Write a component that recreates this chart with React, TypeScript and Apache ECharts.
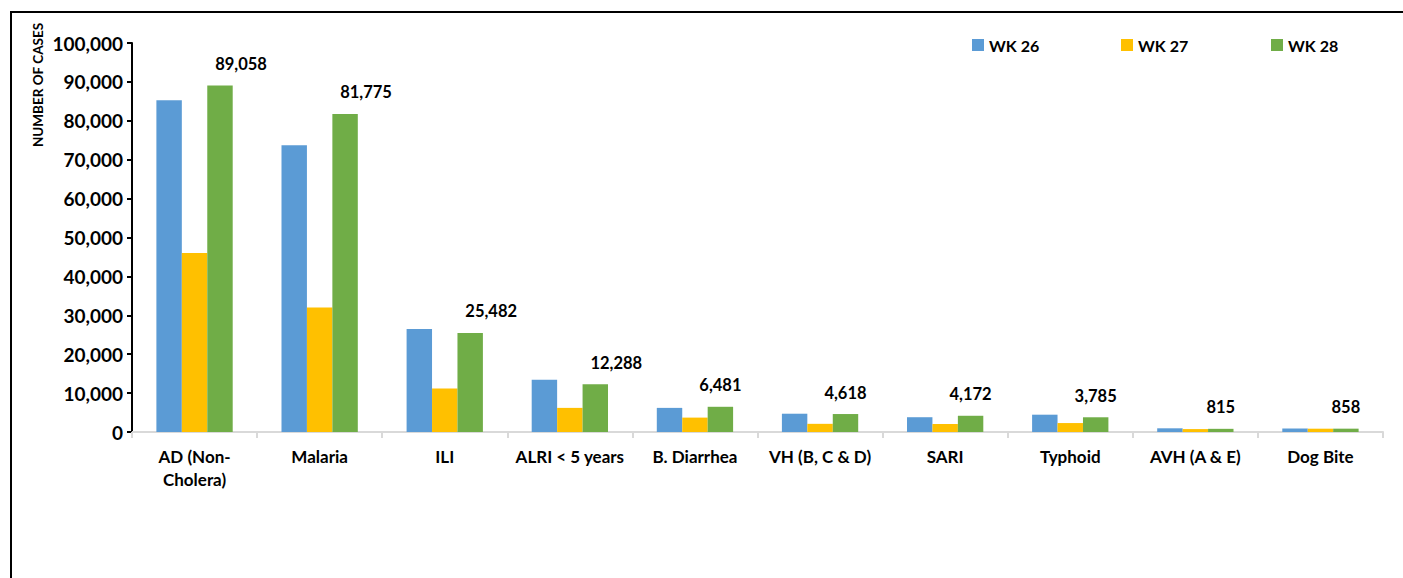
import React, { useEffect, useRef } from "react";
import * as echarts from "echarts";

const categories = [
  "AD (Non-\nCholera)",
  "Malaria",
  "ILI",
  "ALRI < 5 years",
  "B. Diarrhea",
  "VH (B, C & D)",
  "SARI",
  "Typhoid",
  "AVH (A & E)",
  "Dog Bite",
];
const seriesNames = ["WK 26", "WK 27", "WK 28"];
const wk26 = [85300, 73700, 26500, 13400, 6200, 4700, 3800, 4450, 950, 900];
const wk27 = [46000, 32000, 11200, 6200, 3700, 2100, 2050, 2300, 750, 850];
const wk28 = [89058, 81775, 25482, 12288, 6481, 4618, 4172, 3785, 815, 858];
const colors = ["#5B9BD5", "#FFC000", "#70AD47"];
const yTicks = { min: 0, max: 100000, interval: 10000 };

const FONT = "Lato";
const fmt = (v: number) => v.toLocaleString("en-US");

export default function App() {
  const ref = useRef<HTMLDivElement>(null);
  useEffect(() => {
    if (!ref.current) return;
    const chart = echarts.init(ref.current, undefined, { renderer: "svg" });
    const legendLefts = [972, 1121, 1271];
    chart.setOption({
      animation: false,
      backgroundColor: "#ffffff",
      textStyle: { fontFamily: FONT },
      grid: { left: 132, right: 20, top: 43, bottom: 146, containLabel: false },
      legend: seriesNames.map((n, i) => ({
        data: [n],
        left: legendLefts[i],
        top: 37,
        padding: 0,
        itemWidth: 12,
        itemHeight: 12,
        icon: "rect",
        textStyle: { fontFamily: FONT, fontWeight: "bold", fontSize: 16, color: "#000" },
      })),
      xAxis: {
        type: "category",
        data: categories,
        axisLine: { lineStyle: { color: "#d9d9d9", width: 2 } },
        axisTick: { show: true, length: 6, lineStyle: { color: "#d9d9d9", width: 2 } },
        axisLabel: {
          interval: 0,
          margin: 13,
          fontFamily: FONT,
          fontWeight: "bold",
          fontSize: 17,
          lineHeight: 23,
          color: "#000",
        },
      },
      yAxis: {
        type: "value",
        min: yTicks.min,
        max: yTicks.max,
        interval: yTicks.interval,
        splitLine: { show: false },
        axisLine: { show: true, lineStyle: { color: "#000", width: 2 } },
        axisTick: { show: true, length: 5, lineStyle: { color: "#000", width: 2 } },
        axisLabel: {
          margin: 9,
          fontFamily: FONT,
          fontWeight: "bold",
          fontSize: 19,
          color: "#000",
          formatter: (v: number) => fmt(v),
        },
      },
      series: [
        { name: seriesNames[0], type: "bar", data: wk26, itemStyle: { color: colors[0] }, barGap: "0%", barCategoryGap: "39%" },
        { name: seriesNames[1], type: "bar", data: wk27, itemStyle: { color: colors[1] }, barGap: "0%", barCategoryGap: "39%" },
        {
          name: seriesNames[2],
          type: "bar",
          itemStyle: { color: colors[2] },
          barGap: "0%",
          barCategoryGap: "39%",
          data: wk28.map((v) => ({
            value: v,
            label: { offset: [v >= 10000 ? 21 : 0, 0] },
          })),
          label: {
            show: true,
            position: "top",
            distance: 13,
            fontFamily: FONT,
            fontWeight: "bold",
            fontSize: 16.5,
            color: "#000",
            formatter: (p: any) => fmt(p.value),
          },
        },
      ],
      graphic: [
        {
          type: "line",
          shape: { x1: 10, y1: 12, x2: 1403, y2: 12 },
          style: { stroke: "#000", lineWidth: 2 },
          silent: true,
        },
        {
          type: "line",
          shape: { x1: 11, y1: 11, x2: 11, y2: 578 },
          style: { stroke: "#000", lineWidth: 2 },
          silent: true,
        },
        {
          type: "text",
          x: 38,
          y: 85,
          rotation: Math.PI / 2,
          style: {
            text: "NUMBER OF CASES",
            fontFamily: FONT,
            fontWeight: "bold",
            fontSize: 13.5,
            fill: "#000",
            align: "center",
            verticalAlign: "middle",
          },
        },
      ],
    });
    return () => chart.dispose();
  }, []);
  return (
    <div
      ref={ref}
      style={{ position: "absolute", left: 0, top: 0, width: 1403, height: 578 }}
    />
  );
}
